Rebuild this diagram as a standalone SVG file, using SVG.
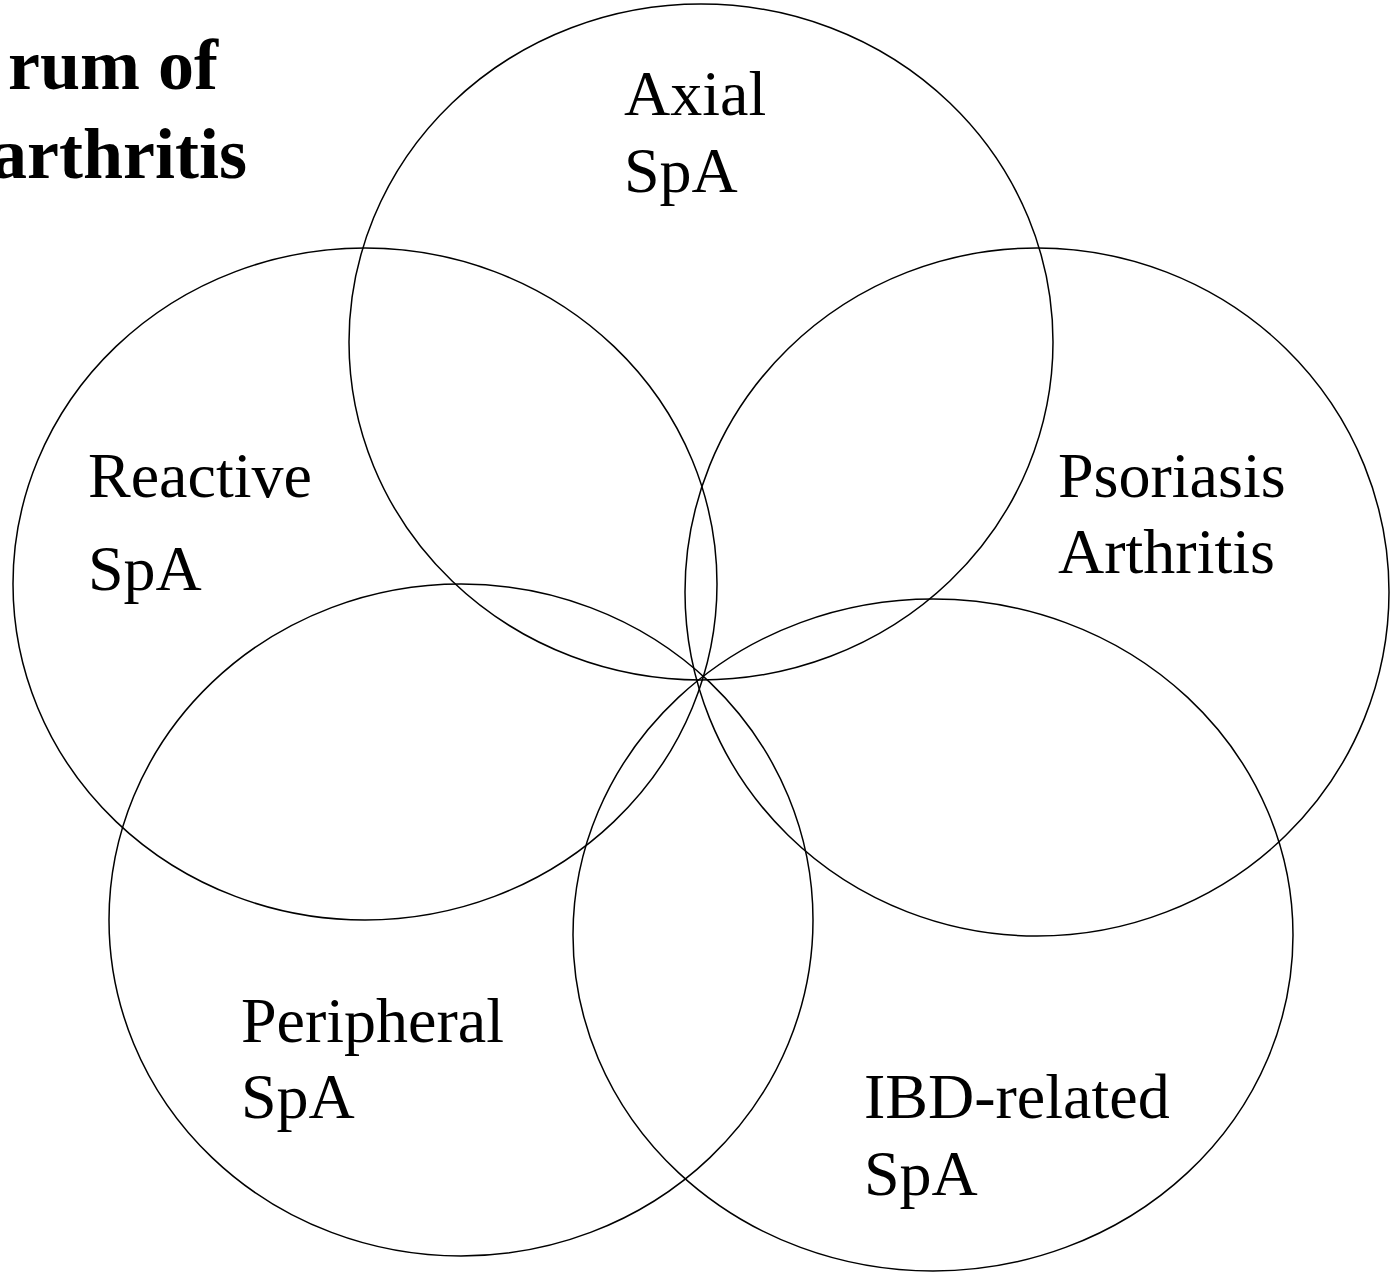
<svg xmlns="http://www.w3.org/2000/svg" width="1397" height="1272" viewBox="0 0 1397 1272">
<style>
.c{fill:none;stroke:#000;stroke-width:1.5}
.t{font-family:"Liberation Serif","Times New Roman",serif;font-size:64px;fill:#000}
.h{font-family:"Liberation Serif","Times New Roman",serif;font-size:72px;font-weight:bold;fill:#000}
</style>
<rect width="1397" height="1272" fill="#fff"/>
<g id="title">
<text class="h" x="218" y="89" text-anchor="end">rum of</text>
<text class="h" x="247" y="178" text-anchor="end">arthritis</text>
</g>
<g id="axial"><ellipse class="c" cx="701" cy="342" rx="352" ry="338"/>
<text class="t" x="624" y="115">Axial</text><text class="t" x="624" y="192">SpA</text></g>
<g id="reactive"><ellipse class="c" cx="365" cy="584" rx="352" ry="336"/>
<text class="t" x="88" y="497">Reactive</text><text class="t" x="88" y="590">SpA</text></g>
<g id="psoriasis"><ellipse class="c" cx="1037" cy="592" rx="352" ry="344"/>
<text class="t" x="1058" y="497">Psoriasis</text><text class="t" x="1058" y="573">Arthritis</text></g>
<g id="peripheral"><ellipse class="c" cx="461" cy="920" rx="352" ry="336"/>
<text class="t" x="241" y="1042">Peripheral</text><text class="t" x="241" y="1118">SpA</text></g>
<g id="ibd"><ellipse class="c" cx="933" cy="935" rx="360" ry="336"/>
<text class="t" x="864" y="1118">IBD-related</text><text class="t" x="864" y="1195">SpA</text></g>
<g id="connectors"/>
</svg>
